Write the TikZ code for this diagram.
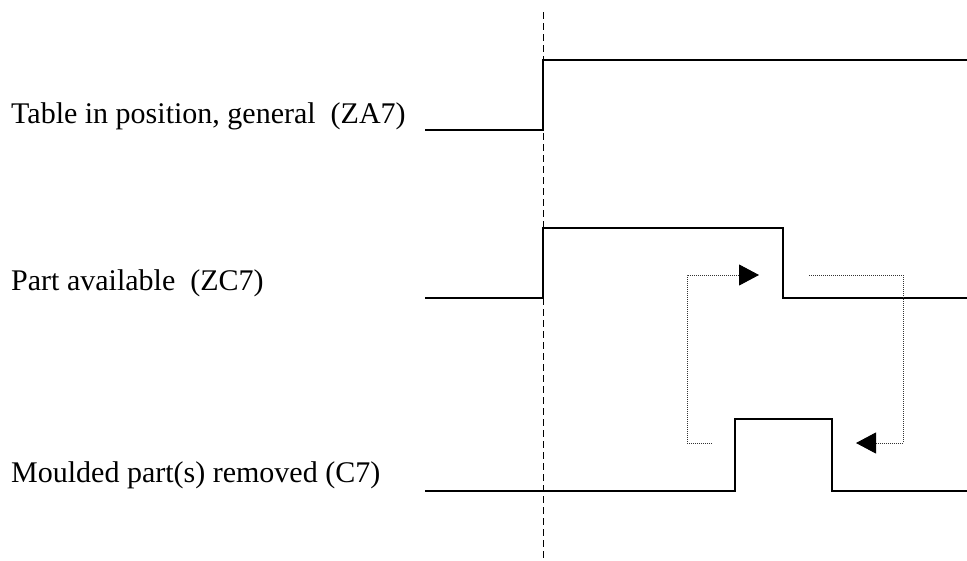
\documentclass[tikz,border=0pt]{standalone}
\usepackage{fontspec}
\setmainfont{Liberation Serif}
\usetikzlibrary{arrows.meta}
\begin{document}
\begin{tikzpicture}[x=1pt,y=-1pt,
  sig/.style={line width=1.6pt},
  guide/.style={line width=0.9pt,dash pattern=on 7pt off 4pt},
  loop/.style={line width=1pt,gray!40!black,dash pattern=on 1pt off 1pt,-{Triangle[length=20pt,width=21pt,black]}},
  lbl/.style={anchor=base west,inner sep=0pt,font=\fontsize{30}{34}\selectfont}]
\useasboundingbox (0,0) rectangle (967,560);
% labels
\node[lbl] (la) at (11,123) {Table in position, general\ \ (ZA7)};
\node[lbl] (lb) at (11,290) {Part available\ \ (ZC7)};
\node[lbl] (lc) at (11,482) {Moulded part(s) removed (C7)};
% guide line
\coordinate (gt) at (543,12);
\coordinate (gb) at (543,560);
\draw[guide] (gt) -- (gb);
% ZA7
\coordinate (a0) at (425,130);
\coordinate (a1) at (543,130);
\coordinate (a2) at (543,60);
\coordinate (a3) at (967,60);
\draw[sig] (a0) -- (a1) -- (a2) -- (a3);
% ZC7
\coordinate (b0) at (425,298);
\coordinate (b1) at (543,298);
\coordinate (b2) at (543,228);
\coordinate (b3) at (783,228);
\coordinate (b4) at (783,298);
\coordinate (b5) at (967,298);
\draw[sig] (b0) -- (b1) -- (b2) -- (b3) -- (b4) -- (b5);
% C7
\coordinate (c0) at (425,491);
\coordinate (c1) at (735,491);
\coordinate (c2) at (735,419);
\coordinate (c3) at (832,419);
\coordinate (c4) at (832,491);
\coordinate (c5) at (967,491);
\draw[sig] (c0) -- (c1) -- (c2) -- (c3) -- (c4) -- (c5);
% dotted loops
\coordinate (p0) at (712,443);
\coordinate (p1) at (687,443);
\coordinate (p2) at (687,275);
\coordinate (p3) at (759,275);
\draw[loop] (p0) -- (p1) -- (p2) -- (p3);
\coordinate (q0) at (809,275);
\coordinate (q1) at (903,275);
\coordinate (q2) at (903,443);
\coordinate (q3) at (856,443);
\draw[loop] (q0) -- (q1) -- (q2) -- (q3);
\end{tikzpicture}
\end{document}
